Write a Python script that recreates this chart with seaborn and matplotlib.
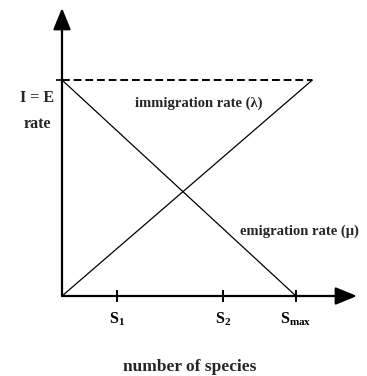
import matplotlib
matplotlib.use("Agg")
import matplotlib.pyplot as plt
import seaborn as sns

# island biogeography model, rates scaled so max rate = 1, S_max = 1
species_ticks = [0.235, 0.69, 1.0]
tick_labels = [r"S$_{\mathrm{1}}$", r"S$_{\mathrm{2}}$", r"S$_{\mathrm{max}}$"]
immigration_x = [0.0, 1.07]
immigration_y = [0.0, 1.0]
emigration_x = [0.0, 1.0]
emigration_y = [1.0, 0.0]
equilibrium_x = [0.0, 1.07]
equilibrium_y = [1.0, 1.0]

sns.set_style("white")
plt.rcParams["font.family"] = ["Liberation Serif", "DejaVu Serif"]
plt.rcParams["font.weight"] = "bold"
plt.rcParams["mathtext.fontset"] = "custom"
plt.rcParams["mathtext.rm"] = "Liberation Serif:bold"
plt.rcParams["mathtext.it"] = "Liberation Serif:bold"
plt.rcParams["mathtext.bf"] = "Liberation Serif:bold"

fig = plt.figure(figsize=(3.67, 3.76), dpi=100)
ax = fig.add_axes([62 / 367, 80 / 376, 295 / 367, 288 / 376])
xmax, ymax = 295 / 234, 288 / 216
ax.set_xlim(0, xmax)
ax.set_ylim(0, ymax)
for s in ax.spines.values():
    s.set_visible(False)

sns.lineplot(x=immigration_x, y=immigration_y, ax=ax, color="black", lw=0.9)
sns.lineplot(x=emigration_x, y=emigration_y, ax=ax, color="black", lw=0.9)
ax.plot(equilibrium_x, equilibrium_y, color="black", lw=1.4, dashes=(4, 2))

# axes with arrow heads
arrow = dict(arrowstyle="-|>,head_length=1.1,head_width=0.45", lw=1.6,
             color="black", shrinkA=0, shrinkB=0, mutation_scale=12)
ax.annotate("", xy=(xmax, 0), xytext=(0, 0), arrowprops=arrow, annotation_clip=False)
ax.annotate("", xy=(0, ymax), xytext=(0, 0), arrowprops=arrow, annotation_clip=False)

ax.set_xticks(species_ticks)
ax.set_xticklabels(tick_labels, fontsize=11.5, fontweight="bold")
ax.tick_params(axis="x", bottom=True, direction="inout", length=9, width=1.4, pad=6,
               colors="black")
ax.set_yticks([1.0])
ax.set_yticklabels([])
ax.tick_params(axis="y", left=True, direction="out", length=4, width=1.2, colors="black")

ax.text(0.312, 0.894, "immigration rate (λ)", fontsize=10.5, fontweight="bold", va="center")
ax.text(0.76, 0.30, "emigration rate (μ)", fontsize=10.5, fontweight="bold", va="center")

fig.text(37 / 367, 1 - 98 / 376, "I = E", ha="center", va="center", fontsize=11.5, fontweight="bold")
fig.text(37 / 367, 1 - 124 / 376, "rate", ha="center", va="center", fontsize=11.5, fontweight="bold")
fig.text(190 / 367, 1 - 367 / 376, "number of species", ha="center", va="center",
         fontsize=12.5, fontweight="bold")

fig.savefig("out.png", dpi=100, facecolor="white")
